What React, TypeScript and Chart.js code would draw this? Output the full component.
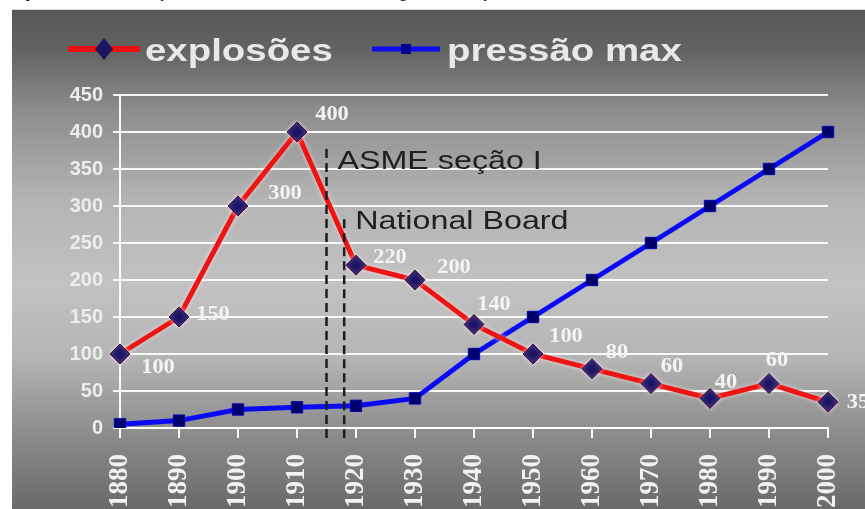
import React, { useEffect, useRef } from "react";
import { Chart, registerables } from "chart.js";

Chart.register(...registerables);

// Decades on the x axis
const decades = ["1880", "1890", "1900", "1910", "1920", "1930", "1940", "1950", "1960", "1970", "1980", "1990", "2000"];
// Number of boiler explosions per decade
const explosoes = [100, 150, 300, 400, 220, 200, 140, 100, 80, 60, 40, 60, 35];
// Maximum working pressure per decade
const pressaoMax = [5, 10, 25, 28, 30, 40, 100, 150, 200, 250, 300, 350, 400];
// Value axis range
const yMin = 0;
const yMax = 450;
const yStep = 50;
// Milestones marked with dashed lines
const markYears = [1915, 1918];
const markTexts = ["ASME seção I", "National Board"];
const markTopValues = [377, 282];
const markTextValues = [350, 269];
// Series names
const seriesNames = ["explosões", "pressão max"];

const CAPTION = "Explosões versus evolução das normas técnicas ASME e o regime de atuação do National Board";

// where each value label sits relative to its marker
const labelOffsets: [number, number][] = [
  [38, 14], [34, -2], [47, -12], [35, -17], [34, -7], [39, -12], [20, -20],
  [33, -17], [25, -16], [21, -17], [16, -16], [8, -23], [30, 1],
];

const SANS = '"Liberation Sans", Arial, sans-serif';
const SERIF = '"Liberation Serif", "Times New Roman", serif';

function stretchedText(ctx: CanvasRenderingContext2D, text: string, x: number, y: number, sx: number, align: CanvasTextAlign) {
  ctx.save();
  ctx.translate(x, y);
  ctx.scale(sx, 1);
  ctx.textAlign = align;
  ctx.fillText(text, 0, 0);
  ctx.restore();
}

const glowPlugin = {
  id: "redGlow",
  beforeDatasetDraw(chart: any, args: any) {
    if (args.index !== 0) return;
    const ctx = chart.ctx;
    ctx.save();
    ctx.shadowColor = "rgba(255,235,235,0.75)";
    ctx.shadowBlur = 4;
  },
  afterDatasetDraw(chart: any, args: any) {
    if (args.index !== 0) return;
    chart.ctx.restore();
  },
};

const marksPlugin = {
  id: "milestones",
  afterDatasetsDraw(chart: any) {
    const ctx: CanvasRenderingContext2D = chart.ctx;
    const xs = chart.scales.x;
    const ys = chart.scales.y;
    const area = chart.chartArea;
    ctx.save();
    markYears.forEach((year, i) => {
      const x = xs.getPixelForValue((year - 1880) / 10);
      const top = ys.getPixelForValue(markTopValues[i]);
      ctx.strokeStyle = "#1c1c1c";
      ctx.lineWidth = 2.5;
      ctx.setLineDash([9, 5]);
      ctx.beginPath();
      ctx.moveTo(x, top);
      ctx.lineTo(x, area.bottom + 10);
      ctx.stroke();
      ctx.setLineDash([]);
      ctx.fillStyle = "#1f1f1f";
      ctx.font = `26px ${SANS}`;
      ctx.textBaseline = "alphabetic";
      stretchedText(ctx, markTexts[i], x + 11, ys.getPixelForValue(markTextValues[i]), 1.24, "left");
    });
    ctx.restore();
  },
};

const valueLabelsPlugin = {
  id: "valueLabels",
  afterDraw(chart: any) {
    const ctx: CanvasRenderingContext2D = chart.ctx;
    const meta = chart.getDatasetMeta(0);
    ctx.save();
    ctx.fillStyle = "#f4f4f4";
    ctx.font = `bold 20px ${SERIF}`;
    ctx.textBaseline = "middle";
    meta.data.forEach((pt: any, i: number) => {
      const [dx, dy] = labelOffsets[i];
      stretchedText(ctx, String(explosoes[i]), pt.x + dx, pt.y + dy, 1.12, "center");
    });
    ctx.restore();
  },
};

const legendPlugin = {
  id: "topLegend",
  afterDraw(chart: any) {
    const ctx: CanvasRenderingContext2D = chart.ctx;
    const y = 39;
    ctx.save();
    // red entry: line with a diamond
    ctx.strokeStyle = "#e81212";
    ctx.lineWidth = 6;
    ctx.beginPath();
    ctx.moveTo(56, y);
    ctx.lineTo(128, y);
    ctx.stroke();
    ctx.fillStyle = "#1a1560";
    ctx.beginPath();
    ctx.moveTo(92, y - 11);
    ctx.lineTo(101, y);
    ctx.lineTo(92, y + 11);
    ctx.lineTo(83, y);
    ctx.closePath();
    ctx.fill();
    // blue entry: line with a square
    ctx.strokeStyle = "#0c0cf0";
    ctx.lineWidth = 5;
    ctx.beginPath();
    ctx.moveTo(360, y);
    ctx.lineTo(428, y);
    ctx.stroke();
    ctx.fillStyle = "#000090";
    ctx.fillRect(389, y - 5, 10, 10);
    // names
    ctx.fillStyle = "#e8e8e8";
    ctx.font = `bold 32px ${SANS}`;
    ctx.textBaseline = "alphabetic";
    stretchedText(ctx, seriesNames[0], 133, 51, 1.2, "left");
    stretchedText(ctx, seriesNames[1], 435, 51, 1.2, "left");
    ctx.restore();
  },
};

function ExplosionsChart() {
  const ref = useRef<HTMLCanvasElement | null>(null);

  useEffect(() => {
    if (!ref.current) return;
    const chart = new Chart(ref.current, {
      type: "line",
      data: {
        labels: decades,
        datasets: [
          {
            label: seriesNames[0],
            data: explosoes,
            borderColor: "#ee1414",
            borderWidth: 5,
            tension: 0,
            pointStyle: "rectRot",
            pointRadius: 10,
            pointBackgroundColor: "#1b1464",
            pointBorderColor: "#4a0e4a",
            pointBorderWidth: 1,
          },
          {
            label: seriesNames[1],
            data: pressaoMax,
            borderColor: "#0a0af5",
            borderWidth: 5,
            tension: 0,
            pointStyle: "rect",
            pointRadius: 8,
            pointBackgroundColor: "#00006a",
            pointBorderColor: "#0000b0",
            pointBorderWidth: 1,
          },
        ],
      },
      options: {
        animation: false,
        responsive: false,
        maintainAspectRatio: false,
        layout: { padding: { top: 85, right: 37, left: 0, bottom: 0 } },
        plugins: {
          legend: { display: false },
          tooltip: { enabled: false },
          title: { display: false },
        },
        scales: {
          x: {
            type: "category",
            offset: false,
            afterFit(scale: any) {
              scale.height = 82;
              scale.paddingLeft = 0;
              scale.paddingRight = 0;
            },
            grid: {
              drawOnChartArea: false,
              drawTicks: true,
              tickLength: 10,
              color: "rgba(255,255,255,0.95)",
              lineWidth: 2,
            },
            border: { display: true, color: "rgba(255,255,255,0.95)", width: 2 },
            ticks: {
              autoSkip: false,
              minRotation: 90,
              maxRotation: 90,
              padding: 16,
              color: "#f2f2f2",
              font: { family: SERIF, size: 27, weight: "bold" },
            },
          },
          y: {
            min: yMin,
            max: yMax,
            afterFit(scale: any) {
              scale.width = 108;
            },
            grid: {
              color: "rgba(255,255,255,0.92)",
              lineWidth: 2,
              tickLength: 7,
            },
            border: { display: true, color: "rgba(255,255,255,0.95)", width: 2 },
            ticks: {
              stepSize: yStep,
              padding: 10,
              color: "#ededed",
              font: { family: SANS, size: 20, weight: "bold" },
            },
          },
        },
      },
      plugins: [glowPlugin, marksPlugin, valueLabelsPlugin, legendPlugin],
    } as any);
    return () => chart.destroy();
  }, []);

  return <canvas ref={ref} width={853} height={500} style={{ display: "block", width: 853, height: 500 }} />;
}

export default function App() {
  return (
    <div style={{ position: "absolute", left: 0, top: 0, width: 865, height: 509, background: "#ffffff", overflow: "hidden" }}>
      <div style={{ position: "absolute", left: 0, top: 0, width: 865, height: 9, overflow: "hidden" }}>
        <div
          style={{
            position: "absolute",
            left: 8,
            top: -16,
            whiteSpace: "nowrap",
            fontFamily: SERIF,
            fontSize: 16,
            lineHeight: "16px",
            color: "#000",
          }}
        >
          {CAPTION}
        </div>
      </div>
      <div
        style={{
          position: "absolute",
          left: 12,
          top: 9,
          width: 853,
          height: 500,
          borderTop: "1px solid #d8d8d8",
          boxSizing: "border-box",
          background:
            "linear-gradient(to bottom, #585858 0%, #636363 8%, #8c8c8c 20%, #b4b4b4 38%, #c2c2c2 55%, #b4b4b4 70%, #8e8e8e 84%, #6a6a6a 100%)",
        }}
      >
        <ExplosionsChart />
      </div>
    </div>
  );
}
